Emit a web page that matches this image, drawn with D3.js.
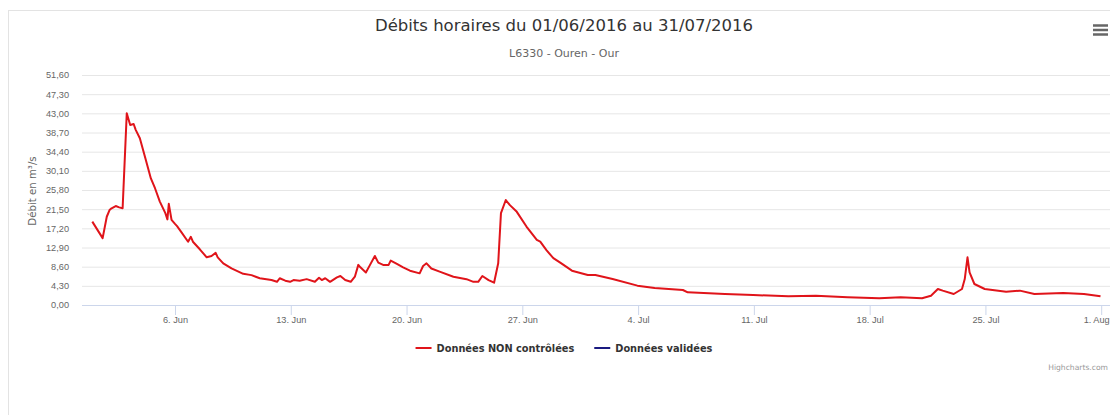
<!DOCTYPE html>
<html>
<head>
<meta charset="utf-8">
<script src="https://cdn.jsdelivr.net/npm/d3@7"></script>
<style>
  body { margin: 0; background: #fff; }
  svg { display: block; font-family: "DejaVu Sans", sans-serif; }
</style>
</head>
<body>
<figure id="chart" style="margin:0"></figure>
<script>
// hourly discharge readings (m3/s), 2016
const stamps = [
  "06-01 00", "06-01 15", "06-01 21", "06-02 01", "06-02 04", "06-02 10", "06-02 15", "06-02 20",
  "06-03 02", "06-03 07", "06-03 12", "06-03 15", "06-03 21", "06-04 05", "06-04 13", "06-04 19",
  "06-05 02", "06-05 10", "06-05 13", "06-05 15", "06-05 19", "06-06 00", "06-06 03", "06-06 10",
  "06-06 19", "06-06 23", "06-07 02", "06-07 12", "06-07 22", "06-08 05", "06-08 11", "06-08 14",
  "06-08 22", "06-09 10", "06-10 03", "06-10 15", "06-11 03", "06-11 20", "06-12 04", "06-12 08",
  "06-12 16", "06-12 23", "06-13 04", "06-13 13", "06-13 23", "06-14 11", "06-14 17", "06-14 21",
  "06-15 02", "06-15 09", "06-15 19", "06-16 00", "06-16 07", "06-16 15", "06-16 21", "06-17 02",
  "06-17 05", "06-17 13", "06-17 19", "06-18 02", "06-18 07", "06-18 14", "06-18 22", "06-19 01",
  "06-19 10", "06-19 19", "06-20 05", "06-20 19", "06-21 00", "06-21 05", "06-21 12", "06-22 00",
  "06-22 20", "06-23 15", "06-24 01", "06-24 08", "06-24 14", "06-24 23", "06-25 07", "06-25 13",
  "06-25 17", "06-26 00", "06-26 06", "06-26 16", "06-27 06", "06-27 21", "06-28 02", "06-28 11",
  "06-28 21", "06-29 07", "06-30 00", "06-30 23", "07-01 10", "07-02 11", "07-03 23", "07-05 00",
  "07-06 17", "07-07 00", "07-09 06", "07-10 23", "07-13 02", "07-14 18", "07-16 16", "07-18 14",
  "07-19 21", "07-21 04", "07-21 17", "07-22 03", "07-22 10", "07-23 02", "07-23 14", "07-23 18",
  "07-23 22", "07-24 01", "07-24 08", "07-24 23", "07-26 06", "07-27 02", "07-27 23", "07-29 17",
  "07-30 23", "07-31 23"
];
const debit = [
  18.7, 15.0, 19.8, 21.3, 21.7, 22.2, 21.9, 21.7,
  43.0, 40.4, 40.6, 39.3, 37.4, 32.9, 28.4, 26.2,
  23.2, 20.6, 19.2, 22.7, 19.1, 18.2, 17.7, 16.2,
  14.2, 15.3, 14.2, 12.5, 10.7, 11.0, 11.7, 10.7,
  9.35, 8.2, 7.0, 6.7, 6.0, 5.6, 5.2, 6.0,
  5.45, 5.2, 5.6, 5.45, 5.8, 5.2, 6.1, 5.6,
  6.0, 5.2, 6.2, 6.5, 5.6, 5.2, 6.35, 9.0,
  8.45, 7.3, 9.0, 11.0, 9.5, 9.0, 9.0, 9.95,
  9.2, 8.45, 7.7, 7.1, 8.75, 9.35, 8.2, 7.5,
  6.35, 5.8, 5.2, 5.2, 6.5, 5.6, 5.0, 9.35,
  20.6, 23.55, 22.4, 20.9, 17.6, 14.6, 14.2, 12.3,
  10.5, 9.5, 7.7, 6.73, 6.73, 5.83, 4.34, 3.81,
  3.37, 2.84, 2.47, 2.24, 1.94, 2.09, 1.72, 1.5,
  1.72, 1.5, 2.09, 3.59, 3.22, 2.47, 3.59, 5.83,
  10.7, 7.33, 4.71, 3.59, 2.99, 3.22, 2.47, 2.69,
  2.47, 1.94
];
const yTicks = [0, 4.3, 8.6, 12.9, 17.2, 21.5, 25.8, 30.1, 34.4, 38.7, 43.0, 47.3, 51.6];
const xTicks = ["06-06", "06-13", "06-20", "06-27", "07-04", "07-11", "07-18", "07-25", "08-01"];
const legendNames = ["Données NON contrôlées", "Données validées"];
const legendColors = ["#e0141a", "#1a1a80"];

const width = 1110, height = 415;
const plotLeft = 82, plotRight = 1125, plotTop = 75, plotBottom = 305;

const parseHour = d3.timeParse("%Y-%m-%d %H");
const parseDay = d3.timeParse("%Y-%m-%d");
const data = stamps.map((s, i) => ({ date: parseHour("2016-" + s), value: debit[i] }));

const fr = d3.formatLocale({ decimal: ",", thousands: " ", grouping: [3], currency: ["", " €"] });
const yFmt = fr.format(".2f");

const svg = d3.select("figure#chart")
  .append("svg")
  .attr("width", width)
  .attr("height", height);

// chart frame
svg.append("rect")
  .attr("x", 8.5).attr("y", 10.5)
  .attr("width", 1200).attr("height", 500)
  .attr("fill", "none")
  .attr("stroke", "#e3e3e3");

const x = d3.scaleTime()
  .domain([parseDay("2016-06-01"), parseDay("2016-08-01")])
  .range([92.3, 1101.2]);

const y = d3.scaleLinear()
  .domain([0, 51.6])
  .range([plotBottom, plotTop]);

// y axis with gridlines
const yAxis = svg.append("g")
  .attr("transform", "translate(" + plotLeft + ",0)")
  .call(d3.axisLeft(y).tickValues(yTicks).tickFormat(yFmt)
    .tickSize(-(plotRight - plotLeft)).tickPadding(13));
yAxis.select(".domain").remove();
yAxis.selectAll("line").attr("stroke", "#e6e6e6");
yAxis.selectAll("text")
  .attr("fill", "#666")
  .style("font-size", "9.2px");

// x axis
const xAxis = svg.append("g")
  .attr("transform", "translate(0," + plotBottom + ")")
  .call(d3.axisBottom(x).tickValues(xTicks.map(d => parseDay("2016-" + d)))
    .tickFormat(d3.timeFormat("%-d. %b")).tickSize(10).tickSizeOuter(0).tickPadding(1));
xAxis.select(".domain").remove();
xAxis.selectAll("line").attr("stroke", "#ccd6eb");
xAxis.selectAll("text")
  .attr("fill", "#666")
  .style("font-size", "9.2px");
// last label is pushed inside the chart edge, like the original does
xAxis.selectAll(".tick:last-of-type text")
  .attr("text-anchor", "end")
  .attr("x", 8);

svg.append("line")
  .attr("x1", plotLeft).attr("x2", plotRight)
  .attr("y1", plotBottom + 0.5).attr("y2", plotBottom + 0.5)
  .attr("stroke", "#ccd6eb");

// series
const line = d3.line()
  .x(d => x(d.date))
  .y(d => y(d.value));

svg.append("path")
  .datum(data)
  .attr("d", line)
  .attr("fill", "none")
  .attr("stroke", legendColors[0])
  .attr("stroke-width", 2)
  .attr("stroke-linejoin", "round");

// titles
svg.append("text")
  .attr("x", 564).attr("y", 31)
  .attr("text-anchor", "middle")
  .attr("fill", "#333")
  .style("font-size", "16.5px")
  .text("Débits horaires du 01/06/2016 au 31/07/2016");

svg.append("text")
  .attr("x", 564).attr("y", 57)
  .attr("text-anchor", "middle")
  .attr("fill", "#666")
  .style("font-size", "11px")
  .text("L6330 - Ouren - Our");

svg.append("text")
  .attr("transform", "translate(36,191) rotate(-90)")
  .attr("text-anchor", "middle")
  .attr("fill", "#666")
  .style("font-size", "10.2px")
  .text("Débit en m³/s");

// legend
const legend = svg.append("g");
const items = legend.selectAll("g")
  .data(legendNames)
  .enter()
  .append("g");
items.append("line")
  .attr("x1", 0).attr("x2", 16)
  .attr("y1", 348).attr("y2", 348)
  .attr("stroke", (d, i) => legendColors[i])
  .attr("stroke-width", 2);
items.append("text")
  .attr("x", 21).attr("y", 351.5)
  .attr("fill", "#333")
  .style("font-size", "9.8px")
  .style("font-weight", "bold")
  .text(d => d);
let pos = 0;
const offsets = [];
items.each(function () {
  offsets.push(pos);
  pos += 21 + d3.select(this).select("text").node().getComputedTextLength() + 20;
});
const total = pos - 20;
items.attr("transform", (d, i) => "translate(" + (564 - total / 2 + offsets[i]) + ",0)");

// credits
svg.append("text")
  .attr("x", 1108).attr("y", 370)
  .attr("text-anchor", "end")
  .attr("fill", "#999")
  .style("font-size", "7.6px")
  .text("Highcharts.com");

// context menu icon
svg.append("g")
  .selectAll("line")
  .data([25.5, 30, 34.5])
  .enter()
  .append("line")
  .attr("x1", 1093).attr("x2", 1108)
  .attr("y1", d => d).attr("y2", d => d)
  .attr("stroke", "#666")
  .attr("stroke-width", 2.5);
</script>
</body>
</html>
